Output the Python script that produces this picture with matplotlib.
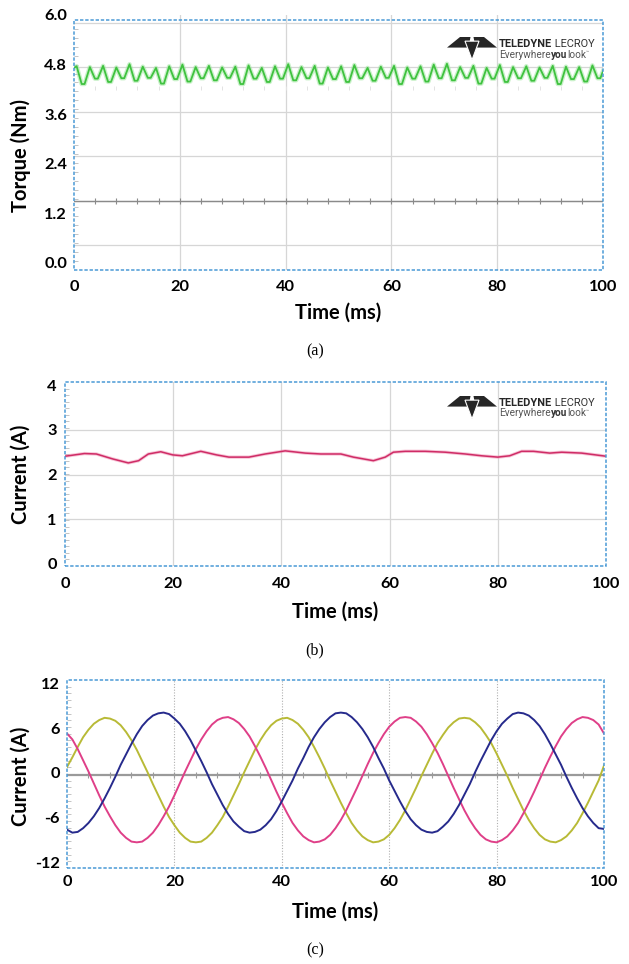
import numpy as np
import matplotlib
matplotlib.use("Agg")
import matplotlib.pyplot as plt
from matplotlib.patches import Rectangle, Polygon

# ---- (a) torque ripple: one peak / trough pair per 2.5 ms cycle ----
torque_peaks = [4.76, 4.74, 4.77, 4.73, 4.81, 4.75, 4.72, 4.76, 4.80, 4.74,
                4.77, 4.73, 4.75, 4.78, 4.72, 4.76, 4.81, 4.74, 4.77, 4.73,
                4.76, 4.79, 4.72, 4.75, 4.77, 4.73, 4.76, 4.80, 4.82, 4.74,
                4.77, 4.72, 4.79, 4.74, 4.76, 4.73, 4.77, 4.75, 4.74, 4.78]
torque_troughs = [4.33, 4.46, 4.38, 4.47, 4.41, 4.48, 4.34, 4.45, 4.39, 4.47,
                  4.42, 4.48, 4.33, 4.46, 4.38, 4.46, 4.42, 4.47, 4.34, 4.45,
                  4.38, 4.47, 4.41, 4.48, 4.33, 4.46, 4.39, 4.47, 4.42, 4.48,
                  4.34, 4.46, 4.38, 4.47, 4.41, 4.48, 4.33, 4.45, 4.39, 4.47]
torque_start = 4.72
torque_end = 4.64

# ---- (b) supply current ----
current_t = [0, 3.6, 5.8, 8.8, 11.7, 13.6, 15.4, 17.7, 19.9, 21.7, 25.1, 28,
             30.3, 34, 37, 40.7, 44.4, 47.3, 51, 53.3, 57, 59.2, 60.7, 62.9,
             66.6, 70.3, 74, 77, 80, 82.2, 84.4, 86.6, 89.6, 91.8, 95.5, 100]
current_v = [2.41, 2.47, 2.46, 2.35, 2.26, 2.31, 2.46, 2.51, 2.44, 2.42, 2.52,
             2.44, 2.39, 2.39, 2.46, 2.53, 2.48, 2.46, 2.46, 2.39, 2.31, 2.39,
             2.50, 2.52, 2.52, 2.50, 2.46, 2.42, 2.39, 2.42, 2.52, 2.52, 2.48,
             2.50, 2.48, 2.41]

# ---- (c) phase currents, one sample per ms ----
phase_t = np.arange(0, 101)
phase_blue = [-7.6, -8.0, -7.9, -7.4, -6.7, -5.8, -4.7, -3.4, -2.0, -0.5,
              1.1, 2.5, 3.9, 5.2, 6.3, 7.1, 7.7, 8.0, 8.1, 7.9,
              7.3, 6.6, 5.6, 4.4, 3.0, 1.6, 0.1, -1.5, -2.9, -4.3,
              -5.5, -6.5, -7.2, -7.8, -8.0, -7.9, -7.6, -7.0, -6.2, -5.1,
              -3.8, -2.4, -1.0, 0.6, 2.0, 3.5, 4.8, 5.9, 6.8, 7.5,
              8.0, 8.1, 8.0, 7.5, 6.8, 5.9, 4.8, 3.5, 2.0, 0.6,
              -1.0, -2.4, -3.8, -5.1, -6.2, -7.0, -7.6, -7.9, -8.0, -7.8,
              -7.2, -6.5, -5.5, -4.3, -2.9, -1.5, 0.1, 1.6, 3.0, 4.4,
              5.6, 6.6, 7.3, 7.9, 8.1, 8.0, 7.7, 7.1, 6.3, 5.2,
              3.9, 2.5, 1.1, -0.5, -2.0, -3.4, -4.7, -5.8, -6.7, -7.4,
              -7.5]
phase_pink = [5.3, 4.5, 3.2, 1.7, 0.2, -1.4, -3.0, -4.5, -5.8, -7.0,
              -8.0, -8.7, -9.2, -9.3, -9.2, -8.7, -8.0, -7.0, -5.8, -4.5,
              -3.0, -1.4, 0.2, 1.7, 3.2, 4.5, 5.6, 6.5, 7.1, 7.4,
              7.5, 7.2, 6.7, 5.9, 4.9, 3.6, 2.2, 0.7, -0.9, -2.5,
              -4.0, -5.4, -6.7, -7.7, -8.5, -9.0, -9.3, -9.2, -8.9, -8.3,
              -7.4, -6.3, -5.0, -3.5, -2.0, -0.4, 1.2, 2.7, 4.0, 5.2,
              6.2, 6.9, 7.4, 7.5, 7.4, 6.9, 6.2, 5.2, 4.0, 2.7,
              1.2, -0.4, -2.0, -3.5, -5.0, -6.3, -7.4, -8.3, -8.9, -9.2,
              -9.3, -9.0, -8.5, -7.7, -6.7, -5.4, -4.0, -2.5, -0.9, 0.7,
              2.2, 3.6, 4.9, 5.9, 6.7, 7.2, 7.5, 7.4, 7.1, 6.5,
              5.3]
phase_yellow = [0.8, 2.1, 3.5, 4.8, 5.8, 6.6, 7.1, 7.4, 7.3, 7.0,
                6.4, 5.5, 4.4, 3.1, 1.6, 0.1, -1.5, -3.0, -4.5, -5.9,
                -7.0, -8.0, -8.7, -9.2, -9.3, -9.2, -8.7, -8.0, -7.0, -5.9,
                -4.5, -3.0, -1.5, 0.1, 1.6, 3.1, 4.4, 5.5, 6.4, 7.0,
                7.3, 7.4, 7.1, 6.6, 5.8, 4.8, 3.5, 2.1, 0.6, -1.0,
                -2.5, -4.0, -5.4, -6.7, -7.7, -8.5, -9.0, -9.3, -9.2, -8.9,
                -8.3, -7.4, -6.3, -5.0, -3.5, -2.0, -0.4, 1.1, 2.6, 4.0,
                5.1, 6.1, 6.8, 7.3, 7.4, 7.3, 6.8, 6.1, 5.1, 4.0,
                2.6, 1.1, -0.4, -2.0, -3.5, -5.0, -6.3, -7.4, -8.3, -8.9,
                -9.2, -9.3, -9.0, -8.5, -7.7, -6.7, -5.4, -4.0, -2.5, -1.0,
                1.0]

x_ticks = [0, 20, 40, 60, 80, 100]

W, H = 629, 964
fig = plt.figure(figsize=(W / 100, H / 100), dpi=100)
fig.patch.set_facecolor("white")

BOLD = dict(fontfamily=["Lato", "DejaVu Sans"], fontweight="bold")
FRAME_BLUE = "#4a9ad6"
GRID = "#d6d6d6"


def axes_px(left, right, top, bottom):
    return fig.add_axes([left / W, 1 - bottom / H, (right - left) / W, (bottom - top) / H])


def setup(ax, ylim, yticks, ylabels, frame, xpad, ypad):
    ax.set_xlim(0, 100)
    ax.set_ylim(*ylim)
    for s in ax.spines.values():
        s.set_visible(False)
    ax.set_xticks(x_ticks, [str(v) for v in x_ticks], fontsize=11.8, **BOLD)
    ax.set_yticks(yticks, ylabels, fontsize=11.8, **BOLD)
    ax.tick_params(axis="x", length=0, pad=xpad)
    ax.tick_params(axis="y", length=0, pad=ypad)
    ax.add_patch(Rectangle((0, frame[0]), 100, frame[1] - frame[0], fill=False,
                           ec=FRAME_BLUE, lw=1.1, ls=(0, (2.2, 1.2)),
                           clip_on=False, zorder=6))
    # small graticule marks along the left edge
    step = (frame[1] - frame[0]) / 28
    ax.plot(np.full(27, 0.45), frame[0] + step * np.arange(1, 28), ls="none",
            marker="_", ms=3, mew=0.7, color="#c4c4c4", zorder=2)


def labels(ax_center_x, ylab_y, ylab, xlab_y, cap_y, cap):
    fig.text(ax_center_x / W, 1 - xlab_y / H, "Time (ms)", ha="center", va="center",
             fontsize=14.5, **BOLD)
    fig.text(21 / W, 1 - ylab_y / H, ylab, ha="center", va="center", rotation=90,
             fontsize=14.5, **BOLD)
    fig.text(315 / W, 1 - cap_y / H, cap, ha="center", va="center",
             fontsize=11.5, fontfamily=["Liberation Serif", "DejaVu Serif"])


# Teledyne LeCroy badge: wings and body of the icon in a 50 x 23 px box
ICON = [
    [(0.00, 0.46), (0.26, 0.00), (0.47, 0.00), (0.43, 0.46)],
    [(1.00, 0.46), (0.74, 0.00), (0.53, 0.00), (0.57, 0.46)],
    [(0.36, 0.18), (0.64, 0.18), (0.50, 1.00)],
]
LOGO_FONT = ["Roboto", "DejaVu Sans"]


def logo(ax, x, y):
    for i, shape in enumerate(ICON):
        pts = [((x + u * 50) / W, 1 - (y + v * 23) / H) for u, v in shape]
        fig.add_artist(Polygon(pts, closed=True, transform=fig.transFigure,
                               fc="#262626", ec="white" if i == 2 else "none",
                               lw=0.8, zorder=7 + i))
    t = fig.text((x + 52) / W, 1 - (y + 12) / H, "TELEDYNE", fontfamily=LOGO_FONT,
                 fontweight="bold", fontsize=7.9, color="#262626", va="bottom", zorder=7)
    ax.annotate(" LECROY", xy=(1, 0), xycoords=t, va="bottom", ha="left",
                fontfamily=LOGO_FONT, fontsize=7.9, color="#333333",
                annotation_clip=False, zorder=7)
    e = fig.text((x + 52) / W, 1 - (y + 22.5) / H, "Everywhere", fontfamily=LOGO_FONT,
                 fontsize=7.2, color="#555555", va="bottom", zorder=7)
    u = ax.annotate("you", xy=(1, 0), xycoords=e, va="bottom", ha="left",
                    fontfamily=LOGO_FONT, fontweight="bold", fontsize=7.2,
                    color="#333333", annotation_clip=False, zorder=7)
    lk = ax.annotate("look", xy=(1, 0), xycoords=u, va="bottom", ha="left",
                     fontfamily=LOGO_FONT, fontsize=7.2, color="#555555",
                     annotation_clip=False, zorder=7)
    ax.annotate("™", xy=(1, 0.45), xycoords=lk, va="bottom", ha="left",
                fontfamily=LOGO_FONT, fontsize=3.5, color="#555555",
                annotation_clip=False, zorder=7)


# ---------------- (a) torque ----------------
ax_a = axes_px(74, 603, 15, 270)
setup(ax_a, (-0.17, 6.0), [0, 1.2, 2.4, 3.6, 4.8, 6.0],
      ["0.0", "1.2", "2.4", "3.6", "4.8", "6.0"], (-0.17, 5.88), 7, 5)
for g in [0.44, 1.51, 2.58, 3.66, 4.74, 5.81]:
    ax_a.axhline(g, color=GRID, lw=0.9, zorder=1)
for g in x_ticks[1:-1]:
    ax_a.axvline(g, color=GRID, lw=0.9, zorder=1)
marks = np.arange(4, 100, 4)
ax_a.axhline(1.51, color="#8a8a8a", lw=1.0, zorder=2)
ax_a.plot(marks, np.full(marks.size, 1.51), ls="none", marker="|", ms=4,
          mew=0.8, color="#8a8a8a", zorder=2)
ax_a.plot(marks, np.full(marks.size, 4.23), ls="none", marker="|", ms=2.5,
          mew=0.7, color="#e2e2e2", zorder=2)

# each cycle: sharp peak, then a short flat-bottomed trough
cycles = np.arange(len(torque_peaks)) * 2.5
torque_t = np.concatenate([[0], np.column_stack([cycles + 0.5, cycles + 1.45,
                                                 cycles + 2.0]).ravel(), [100]])
torque_v = np.concatenate([[torque_start],
                           np.column_stack([torque_peaks, torque_troughs,
                                            torque_troughs]).ravel(),
                           [torque_end]])
ax_a.plot(torque_t, torque_v, color="#a6e8a6", lw=3.2, alpha=0.6, zorder=3,
          solid_joinstyle="round")
ax_a.plot(torque_t, torque_v, color="#3fc23f", lw=1.3, zorder=4, solid_joinstyle="round")
labels(338, 156, "Torque (Nm)", 313, 351, "(a)")
logo(ax_a, 447, 37)

# ---------------- (b) current ----------------
ax_b = axes_px(65, 606, 382, 566)
setup(ax_b, (-0.045, 4.07), [0, 1, 2, 3, 4], ["0", "1", "2", "3", "4"],
      (-0.045, 4.07), 8, 6)
for g in [1, 2, 3]:
    ax_b.axhline(g, color=GRID, lw=0.9, zorder=1)
for g in x_ticks[1:-1]:
    ax_b.axvline(g, color=GRID, lw=0.9, zorder=1)
ax_b.plot(current_t, current_v, color="#f08cb0", lw=2.4, alpha=0.5, zorder=3)
ax_b.plot(current_t, current_v, color="#cf2c66", lw=1.1, zorder=4)
labels(335, 474, "Current (A)", 612, 650, "(b)")
logo(ax_b, 447, 396)

# ---------------- (c) phase currents ----------------
ax_c = axes_px(67, 604, 680, 868)
setup(ax_c, (-12.74, 12.47), [-12, -6, 0, 6, 12], ["-12", "-6", "0", "6", "12"],
      (-12.74, 12.47), 5, 5)
for g in x_ticks[1:-1]:
    ax_c.axvline(g, color="#b0b0b0", lw=0.8, ls=(0, (1, 1.5)), zorder=1)
ax_c.axhline(-0.25, color="#9a9a9a", lw=1.6, zorder=2)
ax_c.plot(marks, np.full(marks.size, -0.25), ls="none", marker="|", ms=5,
          mew=0.8, color="#9a9a9a", zorder=2)
ax_c.plot(phase_t, phase_yellow, color="#b8ba36", lw=1.4, zorder=3)
ax_c.plot(phase_t, phase_pink, color="#df3f88", lw=1.4, zorder=4)
ax_c.plot(phase_t, phase_blue, color="#262a8c", lw=1.4, zorder=5)
labels(335, 776, "Current (A)", 912, 950, "(c)")

fig.savefig("out.png", dpi=100, facecolor="white")
